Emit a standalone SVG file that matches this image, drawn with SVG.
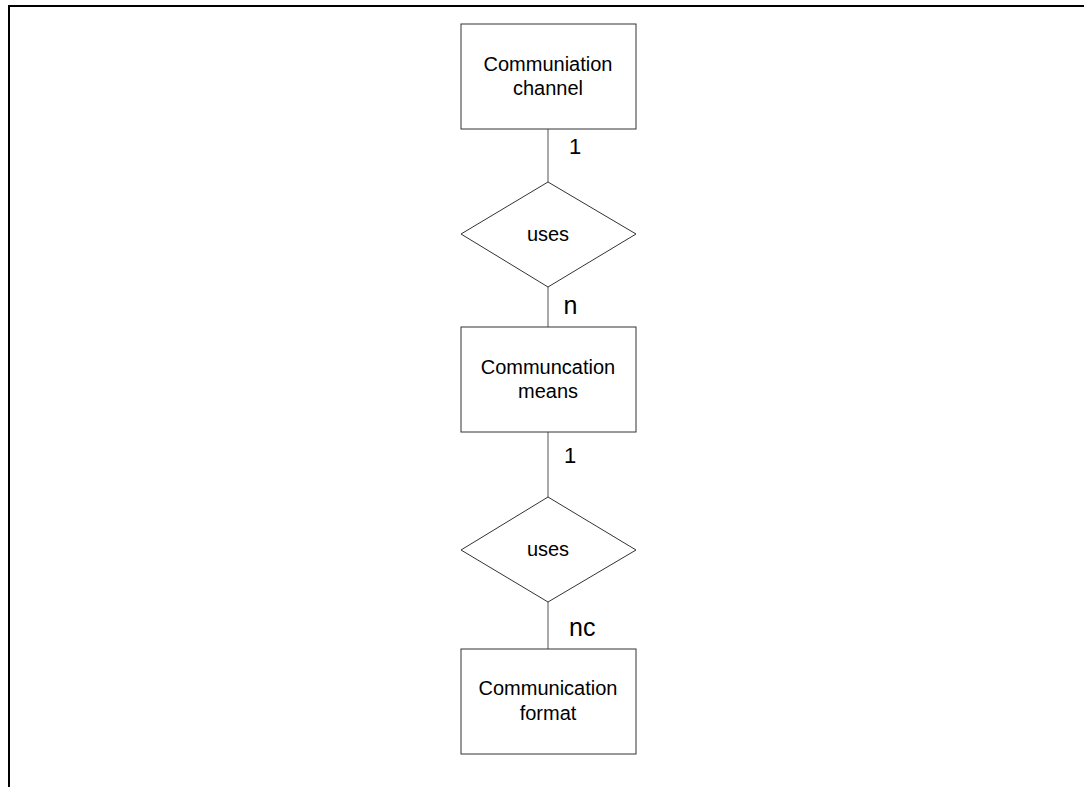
<svg xmlns="http://www.w3.org/2000/svg" width="1084" height="787" viewBox="0 0 1084 787">
  <style>
    .entity { fill: #ffffff; stroke: #333333; stroke-width: 1; }
    .relation { fill: #ffffff; stroke: #333333; stroke-width: 1; }
    .label { font-family: "Liberation Sans", Arial, sans-serif; font-size: 20px; fill: #000000; text-anchor: middle; }
    .card { font-family: "Liberation Sans", Arial, sans-serif; font-size: 22px; fill: #000000; }
    .card.big { font-size: 25px; }
    .link { stroke: #555555; stroke-width: 1; fill: none; }
    .frame { stroke: #000000; stroke-width: 2; fill: none; }
  </style>
  <rect x="0" y="0" width="1084" height="787" fill="#ffffff"/>
  <!-- page frame -->
  <path class="frame" d="M9,787 V6 H1084"/>

  <g id="connectors">
    <line class="link" x1="548" y1="129" x2="548" y2="182"/>
    <line class="link" x1="548" y1="287" x2="548" y2="327"/>
    <line class="link" x1="548" y1="432" x2="548" y2="497"/>
    <line class="link" x1="548" y1="602" x2="548" y2="649"/>
    <text class="card" x="569" y="154">1</text>
    <text class="card big" x="563.5" y="314">n</text>
    <text class="card" x="564" y="463">1</text>
    <text class="card big" x="569" y="636">nc</text>
  </g>

  <g id="channel">
    <rect class="entity" x="461" y="24" width="175" height="105"/>
    <text class="label" x="548" y="71">Communiation</text>
    <text class="label" x="548" y="95">channel</text>
  </g>

  <g id="uses1">
    <polygon class="relation" points="548,182 636,234 548,287 461,234"/>
    <text class="label" x="548" y="241">uses</text>
  </g>

  <g id="means">
    <rect class="entity" x="461" y="327" width="175" height="105"/>
    <text class="label" x="548" y="374">Communcation</text>
    <text class="label" x="548" y="398">means</text>
  </g>

  <g id="uses2">
    <polygon class="relation" points="548,497 636,550 548,602 461,550"/>
    <text class="label" x="548" y="556">uses</text>
  </g>

  <g id="format">
    <rect class="entity" x="461" y="649" width="175" height="105"/>
    <text class="label" x="548" y="695">Communication</text>
    <text class="label" x="548" y="720">format</text>
  </g>
</svg>
